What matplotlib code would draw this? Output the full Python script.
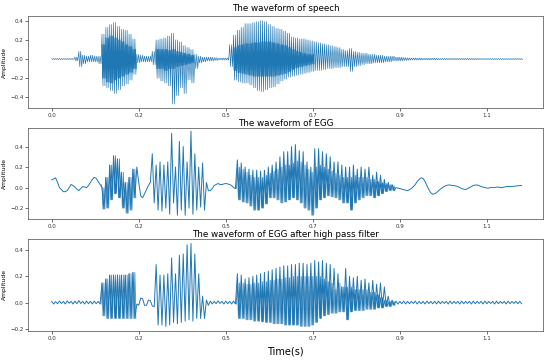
import numpy as np
import matplotlib
matplotlib.use("Agg")
import matplotlib.pyplot as plt

# time grid (s): one upper and one lower extreme read per 10 ms step
dt = 0.01
t = np.arange(122) * dt

# speech: outer extremes
speech_hi = [0.005, 0.005, 0.005, 0.005, 0.005, 0.005, 0.02, 0.08, 0.04, 0.03,
             0.04, 0.03, 0.03, 0.26, 0.33, 0.36, 0.38, 0.34, 0.31, 0.30,
             0.26, 0.21, 0.05, 0.04, 0.03, 0.03, 0.08, 0.20, 0.21, 0.22,
             0.24, 0.27, 0.20, 0.18, 0.14, 0.12, 0.10, 0.05, 0.03, 0.02,
             0.02, 0.02, 0.015, 0.01, 0.01, 0.01, 0.15, 0.25, 0.30, 0.33,
             0.37, 0.37, 0.38, 0.39, 0.40, 0.39, 0.36, 0.34, 0.32, 0.31,
             0.29, 0.27, 0.23, 0.22, 0.21, 0.21, 0.20, 0.19, 0.18, 0.17,
             0.16, 0.15, 0.14, 0.13, 0.12, 0.10, 0.09, 0.11, 0.08, 0.07,
             0.06, 0.06, 0.05, 0.05, 0.04, 0.04, 0.03, 0.03, 0.03, 0.02,
             0.02, 0.015, 0.012, 0.01, 0.01, 0.01, 0.008, 0.008, 0.008, 0.008,
             0.006, 0.006, 0.006, 0.006, 0.006, 0.006, 0.006, 0.006, 0.006, 0.006,
             0.005, 0.005, 0.005, 0.005, 0.005, 0.005, 0.005, 0.005, 0.005, 0.005,
             0.005, 0.005]
speech_lo = [-0.005, -0.005, -0.005, -0.005, -0.005, -0.005, -0.02, -0.08, -0.05, -0.03,
             -0.03, -0.03, -0.05, -0.28, -0.30, -0.33, -0.36, -0.32, -0.28, -0.26,
             -0.22, -0.16, -0.04, -0.03, -0.03, -0.03, -0.06, -0.20, -0.23, -0.25,
             -0.28, -0.47, -0.38, -0.30, -0.36, -0.22, -0.25, -0.10, -0.04, -0.03,
             -0.02, -0.02, -0.015, -0.01, -0.01, -0.01, -0.08, -0.22, -0.24, -0.25,
             -0.25, -0.27, -0.30, -0.33, -0.34, -0.32, -0.30, -0.29, -0.26, -0.23,
             -0.21, -0.19, -0.18, -0.17, -0.16, -0.15, -0.14, -0.13, -0.12, -0.12,
             -0.11, -0.10, -0.10, -0.09, -0.09, -0.08, -0.08, -0.13, -0.08, -0.07,
             -0.06, -0.05, -0.05, -0.04, -0.04, -0.04, -0.03, -0.03, -0.02, -0.02,
             -0.02, -0.015, -0.012, -0.01, -0.01, -0.01, -0.008, -0.008, -0.008, -0.008,
             -0.006, -0.006, -0.006, -0.006, -0.006, -0.006, -0.006, -0.006, -0.006, -0.006,
             -0.005, -0.005, -0.005, -0.005, -0.005, -0.005, -0.005, -0.005, -0.005, -0.005,
             -0.005, -0.005]
# speech: dense inner core (None = no dense core)
speech_core_hi = [None] * 13 + [0.15, 0.22, 0.24, 0.22, 0.20, 0.18, 0.15, 0.13, 0.10] + [None] * 5 + \
                 [0.10, 0.10, 0.10, 0.09, 0.10, 0.08, 0.07, 0.06, 0.05, 0.04] + [None] * 10 + \
                 [0.12, 0.14, 0.15, 0.16, 0.16, 0.17, 0.17, 0.18, 0.18, 0.18, 0.17, 0.16, 0.15,
                  0.14, 0.12, 0.10, 0.08, 0.07, 0.06, 0.05, 0.05] + [None] * 54
speech_core_lo = [None] * 13 + [-0.20, -0.24, -0.25, -0.22, -0.20, -0.18, -0.16, -0.14, -0.10] + [None] * 5 + \
                 [-0.10, -0.10, -0.12, -0.10, -0.10, -0.08, -0.07, -0.06, -0.05, -0.04] + [None] * 10 + \
                 [-0.12, -0.14, -0.15, -0.16, -0.17, -0.18, -0.18, -0.18, -0.18, -0.18, -0.18, -0.17,
                  -0.16, -0.15, -0.13, -0.11, -0.09, -0.08, -0.07, -0.06, -0.05] + [None] * 54

# EGG
egg_hi = [0.075, 0.095, 0.0, -0.04, -0.03, 0.03, 0.005, -0.03, 0.01, 0.0,
          0.05, 0.10, 0.06, 0.0, 0.10, 0.22, 0.31, 0.28, 0.15, 0.05,
          0.10, 0.18, 0.20, -0.08, -0.06, 0.02, 0.33, 0.22, 0.25, 0.22,
          0.25, 0.53, 0.20, 0.45, 0.40, 0.25, 0.55, 0.33, 0.20, 0.24,
          0.05, -0.03, 0.02, 0.04, 0.03, 0.04, 0.03, 0.0, 0.27, 0.24,
          0.20, 0.18, 0.17, 0.17, 0.16, 0.17, 0.20, 0.22, 0.25, 0.30,
          0.35, 0.35, 0.40, 0.42, 0.36, 0.35, 0.25, 0.20, 0.38, 0.38,
          0.35, 0.33, 0.30, 0.25, 0.25, 0.22, 0.20, 0.20, 0.22, 0.18,
          0.20, 0.18, 0.20, 0.12, 0.15, 0.12, 0.08, 0.05, 0.03, 0.0,
          -0.01, -0.02, -0.03, -0.01, 0.03, 0.08, 0.09, 0.02, -0.05, -0.06,
          -0.03, 0.0, 0.02, 0.025, 0.02, 0.01, -0.01, -0.02, 0.0, 0.02,
          0.025, 0.01, 0.0, -0.005, 0.0, 0.005, 0.0, 0.005, 0.01, 0.01,
          0.015, 0.02]
egg_lo = [0.085, 0.05, -0.02, -0.04, 0.0, 0.02, -0.015, -0.01, 0.005, 0.02,
          0.08, 0.09, 0.03, -0.21, -0.20, -0.12, -0.06, -0.10, -0.20, -0.25,
          -0.22, -0.10, 0.05, -0.10, -0.02, 0.05, -0.15, -0.22, -0.23, -0.20,
          -0.26, -0.15, -0.27, -0.22, -0.27, -0.20, -0.26, -0.22, -0.19, -0.22,
          -0.03, -0.01, 0.03, 0.03, 0.035, 0.035, 0.02, -0.01, -0.12, -0.14,
          -0.15, -0.18, -0.22, -0.22, -0.20, -0.16, -0.10, -0.10, -0.12, -0.15,
          -0.14, -0.12, -0.10, -0.12, -0.15, -0.20, -0.22, -0.27, -0.20, -0.12,
          -0.10, -0.08, -0.09, -0.10, -0.12, -0.15, -0.15, -0.22, -0.15, -0.12,
          -0.10, -0.08, -0.08, -0.10, -0.08, -0.06, -0.04, -0.03, -0.03, -0.005,
          -0.015, -0.025, -0.02, 0.01, 0.06, 0.095, 0.06, -0.02, -0.065, -0.05,
          -0.015, 0.01, 0.025, 0.02, 0.015, 0.0, -0.015, -0.01, 0.01, 0.025,
          0.02, 0.005, -0.005, 0.0, 0.0, 0.005, 0.0, 0.01, 0.01, 0.012,
          0.018, 0.02]
# EGG: top of the dense band (band runs down to egg_lo)
egg_core_hi = [None] * 13 + [0.0, 0.10, 0.22, 0.31, 0.28, 0.15, 0.05, 0.10, 0.18] + [None] * 26 + \
              [0.20, 0.18, 0.15, 0.12, 0.10, 0.10, 0.10, 0.12, 0.14, 0.16,
               0.18, 0.20, 0.22, 0.22, 0.24, 0.26, 0.25, 0.22, 0.18, 0.15,
               0.20, 0.22, 0.20, 0.18, 0.16, 0.14, 0.12, 0.10, 0.10, 0.10,
               0.12, 0.10, 0.10, 0.10, 0.08, 0.08, 0.06, 0.05, 0.04, 0.03,
               0.02] + [None] * 33

# EGG after high pass filter
hp_hi = [0.01, 0.008, 0.012, 0.01, 0.014, 0.01, 0.012, 0.016, 0.01, 0.012,
         0.01, 0.012, 0.01, 0.15, 0.18, 0.21, 0.21, 0.21, 0.21, 0.21,
         0.22, 0.23, -0.01, 0.035, -0.02, 0.02, -0.025, 0.29, 0.21, 0.21,
         0.22, 0.34, 0.22, 0.36, 0.37, 0.44, 0.45, 0.37, 0.22, 0.05,
         0.02, 0.012, 0.01, 0.014, 0.01, 0.012, 0.01, 0.012, 0.22, 0.21,
         0.18, 0.19, 0.20, 0.21, 0.22, 0.23, 0.24, 0.25, 0.26, 0.27,
         0.28, 0.28, 0.29, 0.29, 0.30, 0.30, 0.29, 0.30, 0.32, 0.31,
         0.32, 0.30, 0.29, 0.26, 0.22, 0.12, 0.26, 0.20, 0.19, 0.20,
         0.17, 0.18, 0.15, 0.17, 0.14, 0.15, 0.12, 0.05, 0.02, 0.012,
         0.01, 0.012, 0.01, 0.01, 0.012, 0.01, 0.01, 0.012, 0.01, 0.01,
         0.012, 0.01, 0.01, 0.012, 0.01, 0.01, 0.012, 0.01, 0.01, 0.012,
         0.01, 0.01, 0.012, 0.01, 0.01, 0.012, 0.01, 0.01, 0.012, 0.01,
         0.01, 0.01]
hp_lo = [-0.01, -0.008, -0.006, -0.01, -0.004, -0.01, -0.008, -0.006, -0.01, -0.008,
         -0.01, -0.008, -0.01, -0.10, -0.12, -0.12, -0.12, -0.12, -0.12, -0.12,
         -0.12, -0.12, -0.02, 0.03, -0.02, 0.015, -0.03, -0.17, -0.17, -0.18,
         -0.17, -0.15, -0.16, -0.15, -0.14, -0.13, -0.14, -0.12, -0.12, -0.12,
         -0.02, -0.01, -0.008, -0.006, -0.01, -0.008, -0.01, -0.01, -0.12, -0.12,
         -0.13, -0.13, -0.14, -0.14, -0.145, -0.15, -0.15, -0.16, -0.16, -0.16,
         -0.17, -0.17, -0.17, -0.17, -0.18, -0.18, -0.18, -0.17, -0.15, -0.12,
         -0.10, -0.09, -0.08, -0.08, -0.07, -0.07, -0.13, -0.07, -0.06, -0.06,
         -0.06, -0.05, -0.05, -0.05, -0.04, -0.04, -0.03, -0.03, -0.02, -0.01,
         -0.008, -0.01, -0.008, -0.006, -0.01, -0.008, -0.01, -0.006, -0.008, -0.01,
         -0.008, -0.006, -0.01, -0.008, -0.006, -0.01, -0.008, -0.006, -0.01, -0.008,
         -0.006, -0.01, -0.008, -0.006, -0.01, -0.008, -0.006, -0.01, -0.008, -0.006,
         -0.008, -0.008]
# high-passed EGG: top of the dense band (band runs down to hp_lo)
hp_core_hi = [None] * 13 + [0.15, 0.18, 0.21, 0.21, 0.21, 0.21, 0.21, 0.22, 0.23] + [None] * 26 + \
             [0.15, 0.15, 0.14, 0.14, 0.15, 0.15, 0.16, 0.16, 0.17, 0.17,
              0.18, 0.18, 0.19, 0.19, 0.20, 0.20, 0.20, 0.20, 0.20, 0.20,
              0.20, 0.20, 0.18, 0.16, 0.15, 0.10, 0.15, 0.12, 0.12, 0.12,
              0.10, 0.10, 0.10, 0.10, 0.08, 0.08, 0.06, 0.04, 0.02, 0.01,
              0.01] + [None] * 33

tick_pos = [0.0, 0.225, 0.45, 0.675, 0.9, 1.125]
tick_labels = ["0.0", "0.2", "0.5", "0.7", "0.9", "1.1"]
titles = ["The waveform of speech", "The waveform of EGG",
          "The waveform of EGG after high pass filter"]
color = "#1f77b4"


def zigzag(hi, lo, n=1):
    # n swings per step between the step's upper and lower extremes
    hi = np.array(hi, dtype=float)
    lo = np.array(lo, dtype=float)
    k = np.arange(2 * n) * dt / (2 * n)
    x = (t[:, None] + k[None, :]).ravel()
    y = np.where(np.arange(2 * n) % 2 == 0, hi[:, None], lo[:, None]).ravel()
    return x, y


plt.rcParams.update({'font.family': 'DejaVu Sans', 'axes.unicode_minus': True})
fig = plt.figure(figsize=(5.5, 3.6), dpi=100)

boxes = [[0.0515, 0.699, 0.936, 0.2565],
         [0.0515, 0.391, 0.936, 0.2528],
         [0.0515, 0.0806, 0.936, 0.2556]]
ylims = [(-0.515, 0.449), (-0.309, 0.579), (-0.215, 0.484)]
yticks = [[-0.4, -0.2, 0.0, 0.2, 0.4], [-0.2, 0.0, 0.2, 0.4], [-0.2, 0.0, 0.2, 0.4]]
title_pads = [3.5, 1.5, 1.5]

axes = [fig.add_axes(b) for b in boxes]

x, y = zigzag(speech_hi, speech_lo, 2)
axes[0].plot(x, y, color=color, lw=0.45)
x, y = zigzag(speech_core_hi, speech_core_lo, 3)
axes[0].plot(x, y, color=color, lw=0.6)

x, y = zigzag(egg_hi, egg_lo)
axes[1].plot(x, y, color=color, lw=0.7)
x, y = zigzag(egg_core_hi, egg_lo, 2)
axes[1].plot(x, y, color=color, lw=0.5)

x, y = zigzag(hp_hi, hp_lo)
axes[2].plot(x, y, color=color, lw=0.7)
x, y = zigzag(hp_core_hi, hp_lo, 2)
axes[2].plot(x, y, color=color, lw=0.5)

for ax, title, yl, yt, tp in zip(axes, titles, ylims, yticks, title_pads):
    ax.set_xlim(-0.0605, 1.2705)
    ax.set_ylim(*yl)
    ax.set_yticks(yt)
    ax.set_xticks(tick_pos)
    ax.set_xticklabels(tick_labels)
    ax.tick_params(labelsize=4, length=2, width=0.5, pad=1.5, colors='#333333')
    ax.set_ylabel("Amplitude", fontsize=4.3, labelpad=2)
    ax.set_title(title, fontsize=6.3, pad=tp)
    for s in ax.spines.values():
        s.set_linewidth(0.6)
        s.set_color('#666666')

axes[2].set_xlabel("Time(s)", fontsize=7, labelpad=4)

fig.savefig("out.png", dpi=100)
